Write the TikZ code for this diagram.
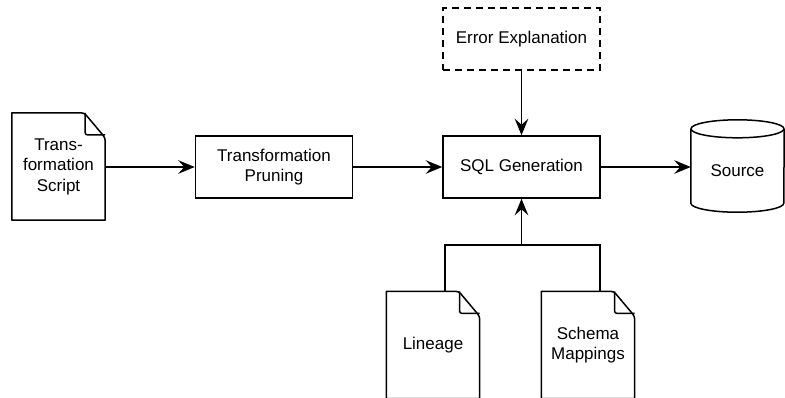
\documentclass[tikz,border=0pt]{standalone}
\usepackage{fontspec}
\setmainfont{Liberation Sans}
\usetikzlibrary{arrows.meta}
\tikzset{
  every node/.style={font=\fontsize{17}{20.5}\selectfont, align=center, inner sep=0pt},
  proc/.style={draw, line width=1.5pt, minimum width=157pt, minimum height=62pt},
  plan/.style={proc, dash pattern=on 7pt off 5pt},
  paper/.style={minimum width=93pt, minimum height=107pt},
  flow/.style={line width=1.5pt, -{Stealth[length=16.5pt,width=13.5pt,inset=6pt]}},
  wire/.style={line width=1.5pt},
  outline/.style={line width=1.5pt, line join=round},
}
% document outline with a folded top-right corner
\newcommand\paperoutline[1]{%
  \draw[outline] (#1.south west) -- (#1.north west)
    [rounded corners=3pt] -- ([xshift=-21pt]#1.north east)
    -- ([yshift=-25pt]#1.north east) [sharp corners] -- (#1.south east) -- cycle;
  \draw[outline, rounded corners=2pt] ([xshift=-20pt]#1.north east)
    -- ([xshift=-20pt,yshift=-22pt]#1.north east) -- ([yshift=-22pt]#1.north east);
}
\begin{document}
\begin{tikzpicture}[x=1pt,y=-1pt]
  \useasboundingbox (0,0) rectangle (785,397);
  \clip (0,0) rectangle (785,397);

  \node[paper] (script) at (58.5,166.5) {Trans-\\formation\\Script};
  \node[proc]  (prune)  at (274,167)    {Transformation\\Pruning};
  \node[proc]  (sql)    at (521.5,167)  {SQL Generation};
  \node[plan]  (err)    at (521.5,39)   {Error Explanation};
  \node[paper] (lin)    at (433,345)    {Lineage};
  \node[paper] (map)    at (588,345)    {Schema\\Mappings};
  \node[minimum width=93pt, minimum height=92pt,
        label={[yshift=-5pt]center:Source}] (src) at (737.5,166) {};

  \paperoutline{script}
  \paperoutline{lin}
  \paperoutline{map}

  % database cylinder
  \draw[outline] ([yshift=-9pt]src.north) ellipse [x radius=46.5pt, y radius=9pt];
  \draw[outline] ([yshift=-9pt]src.north west) -- ([yshift=9pt]src.south west)
    arc[start angle=180, end angle=360, x radius=46.5pt, y radius=9pt]
    -- ([yshift=-9pt]src.north east);

  % data flow
  \draw[flow] (script.east |- prune.west) -- (prune.west);
  \draw[flow] (prune.east) -- (sql.west);
  \draw[flow] (sql.east) -- (sql.east -| src.west);
  \draw[flow] (err.south) -- (sql.north);

  % merge of lineage and mappings
  \coordinate (bus) at (521.5,245);
  \draw[wire] ([xshift=12pt]lin.north) |- (bus) -| ([xshift=12pt]map.north);
  \draw[flow] (bus) -- (sql.south);
\end{tikzpicture}
\end{document}
